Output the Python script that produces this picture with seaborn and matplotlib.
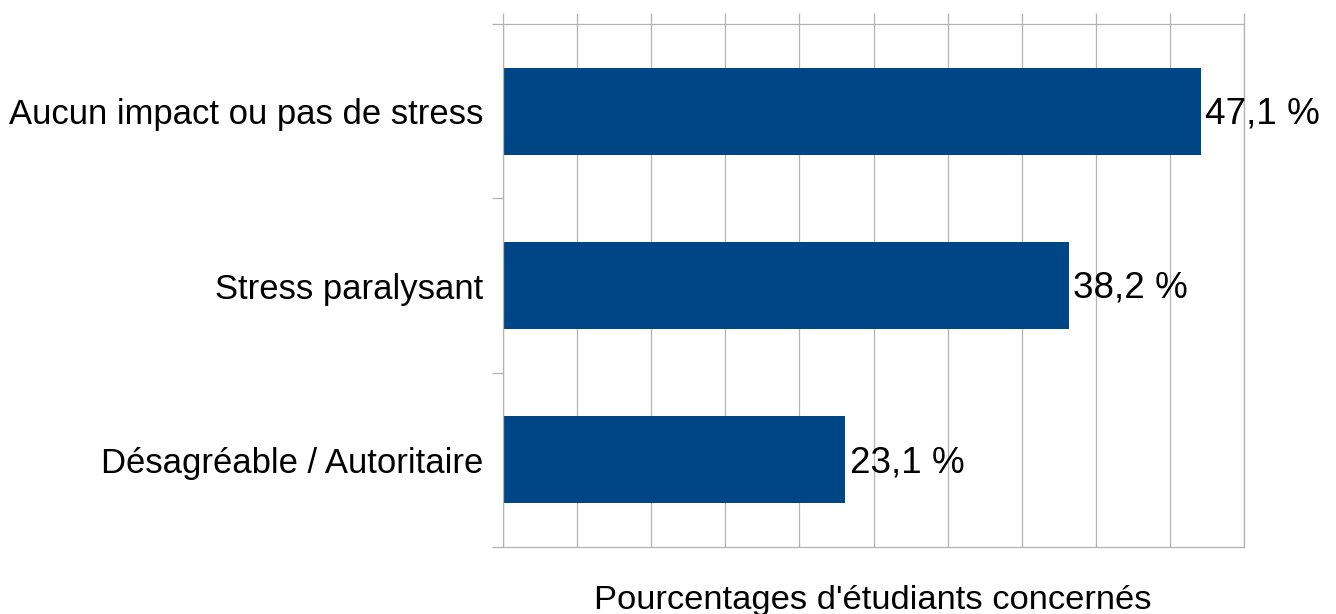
import matplotlib
matplotlib.use("Agg")
import matplotlib.pyplot as plt
import seaborn as sns
import pandas as pd

categories = ["Aucun impact ou pas de stress", "Stress paralysant", "Désagréable / Autoritaire"]
values = [47.1, 38.2, 23.1]
value_labels = ["47,1 %", "38,2 %", "23,1 %"]
x_label = "Pourcentages d'étudiants concernés"

sns.set_theme(style="white")
plt.rcParams["font.family"] = ["Liberation Sans", "DejaVu Sans"]

df = pd.DataFrame({"cat": categories, "val": values})

fig = plt.figure(figsize=(13.36, 6.14), dpi=100)
ax = fig.add_axes([503/1336, 1-547/614, (1244-503)/1336, (547-24)/614])

sns.barplot(data=df, x="val", y="cat", color="#004586", width=0.5,
            saturation=1, orient="h", ax=ax, edgecolor="none")

grid_c = "#b3b3b3"
ax.set_xlim(0, 50)
ax.set_ylim(2.5, -0.5)
ax.set_xticks(range(0, 51, 5))
ax.xaxis.tick_top()
ax.tick_params(axis="x", which="major", direction="out", length=8, width=0.9,
               color=grid_c, top=True, bottom=False, labeltop=False, labelbottom=False)
ax.grid(axis="x", color=grid_c, linewidth=0.9)
ax.set_axisbelow(True)

# y: major ticks at category boundaries, labels at centers via minor ticks
ax.set_yticks([-0.5, 0.5, 1.5, 2.5])
ax.set_yticklabels([])
ax.tick_params(axis="y", which="major", direction="out", length=8, width=0.9,
               color=grid_c, left=True, right=False)
ax.set_yticks([0, 1, 2], minor=True)
ax.set_yticklabels(categories, minor=True, fontsize=24.9, color="#000000")
ax.tick_params(axis="y", which="minor", length=0, pad=14, left=True)

for s in ax.spines.values():
    s.set_color(grid_c)
    s.set_linewidth(0.9)

ax.set_xlabel("")
ax.set_ylabel("")

texts = ax.bar_label(ax.containers[0], labels=value_labels, padding=3, fontsize=26.6, color="#000000")
for t in texts:
    t.xyann = (3, -2)

fig.text(873/1336, 5/614, x_label, ha="center", va="baseline", fontsize=24.8, color="#000000")

fig.savefig("out.png", dpi=100, facecolor="white")
